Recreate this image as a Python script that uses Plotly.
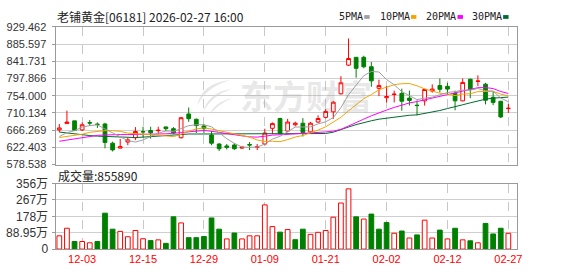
import plotly.graph_objects as go

# ---------------- data ----------------
dates = ["2025-11-28", "2025-12-01", "2025-12-02", "2025-12-03", "2025-12-04", "2025-12-05",
         "2025-12-08", "2025-12-09", "2025-12-10", "2025-12-11", "2025-12-12", "2025-12-15",
         "2025-12-16", "2025-12-17", "2025-12-18", "2025-12-19", "2025-12-22", "2025-12-23",
         "2025-12-24", "2025-12-29", "2025-12-30", "2025-12-31", "2026-01-02", "2026-01-05",
         "2026-01-06", "2026-01-07", "2026-01-08", "2026-01-09", "2026-01-12", "2026-01-13",
         "2026-01-14", "2026-01-15", "2026-01-16", "2026-01-19", "2026-01-20", "2026-01-21",
         "2026-01-22", "2026-01-23", "2026-01-26", "2026-01-27", "2026-01-28", "2026-01-29",
         "2026-01-30", "2026-02-02", "2026-02-03", "2026-02-04", "2026-02-05", "2026-02-06",
         "2026-02-09", "2026-02-10", "2026-02-11", "2026-02-12", "2026-02-13", "2026-02-16",
         "2026-02-20", "2026-02-23", "2026-02-24", "2026-02-25", "2026-02-26", "2026-02-27"]

opens = [667, 683, 690, 667, 685.5, 681.5, 682, 633, 620.5, 636,
         647, 662.5, 665.5, 665, 674.5, 670, 647, 707.5, 694, 677,
         654, 631, 626, 628.5, 620.5, 629.5, 623, 631, 671, 696,
         664, 680, 684, 662, 687, 699, 713, 759, 832, 852,
         852, 828, 773, 749, 757, 760, 748, 730, 741, 766,
         780, 778, 760, 741, 796, 790.5, 783.5, 750, 740, 721.5]
highs = [682, 716, 690, 686, 692, 686, 685, 637, 644, 647,
         674, 675, 675, 675, 675, 674, 700, 724, 696, 682,
         664, 633, 631, 633, 624, 636, 631, 670, 686, 698,
         695, 688, 697, 687, 704, 721, 741, 804, 900, 852,
         856, 840, 795, 779, 767, 772, 767, 742, 772, 783,
         798, 787, 767, 798, 798, 806, 787, 764, 741, 733]
lows = [661, 683, 664, 664, 677, 672, 620, 612, 620, 628,
        641, 648, 645, 656, 664, 656, 645, 687.5, 659, 659,
        628, 613, 617, 616, 619, 615.5, 615.5, 627, 656, 655,
        661, 676, 650, 659, 685, 696, 695, 757, 830, 800,
        824, 777, 753, 737, 737, 716, 729, 704, 729, 762,
        762.5, 758, 717, 740, 748, 779, 732, 730, 697, 710]
closes = [672, 687, 666, 680, 684.5, 681, 635, 616, 624.5, 641.5,
          663, 662, 659.5, 666, 670, 659, 698, 695.5, 678, 670,
          633, 619, 622.5, 619, 623, 628.5, 624, 659, 683, 658,
          687, 684, 660, 684, 696, 714, 737.5, 787, 849, 824,
          828, 792, 780, 752, 758, 740, 742, 729, 770, 771,
          770.5, 771, 741, 788, 770.5, 791.5, 742.5, 737, 700, 722]

volumes = [720000, 1130000, 410000, 410000, 340000, 410000, 1950000, 1080000, 960000, 670000,
           1010000, 560000, 460000, 500000, 310000, 1750000, 1420000, 620000, 620000, 680000,
           1690000, 1080000, 550000, 870000, 550000, 720000, 720000, 2400000, 1220000, 920000,
           1060000, 510000, 1080000, 800000, 910000, 1010000, 1730000, 2500000, 3270000, 1750000,
           1630000, 1900000, 1080000, 1440000, 860000, 980000, 600000, 770000, 1570000, 600000,
           1030000, 550000, 1130000, 500000, 450000, 340000, 1390000, 820000, 1130000, 855890]
# 1 = red (up) volume bar, 0 = green (down) volume bar
vol_up = [1, 1, 0, 1, 1, 0, 0, 0, 1, 1,
          1, 1, 0, 1, 0, 0, 1, 0, 0, 0,
          0, 0, 1, 0, 1, 1, 1, 1, 1, 0,
          1, 0, 0, 1, 1, 1, 1, 1, 1, 0,
          1, 0, 0, 0, 1, 0, 1, 0, 1, 1,
          0, 1, 0, 1, 0, 1, 0, 0, 0, 1]

# moving-average values for the first bars (their windows reach before the visible data)
ma5_head = [650, 660, 665, 674]
ma10_head = [647.5, 650, 652.4, 656, 660.8, 663.2, 665, 665, 663.2]
ma20_head = [638, 641, 644, 647, 651, 653, 654, 655, 655, 655, 655, 655.5, 656, 656.5,
             657, 658, 660, 662, 663]
ma30_head = [661.5, 659, 656.5, 654.5, 652.5, 651, 650, 649, 648, 647.5, 647.5, 648.5,
             650, 651.5, 652.5, 654, 655.5, 656.5, 656.5, 656.5, 656.5, 656, 656, 656,
             656, 656, 656, 656, 656]

tick_dates = ["12-03", "12-15", "12-29", "01-09", "01-21", "02-02", "02-12", "02-27"]
price_ticks = [578.538, 622.403, 666.269, 710.134, 754.000, 797.866, 841.731, 885.597, 929.462]
price_tick_text = ["578.538", "622.403", "666.269", "710.134", "754.000",
                   "797.866", "841.731", "885.597", "929.462"]
vol_ticks = [0, 889500, 1779000, 2668500, 3558000]
vol_tick_text = ["0", "88.95万", "178万", "267万", "356万"]

stock_title = "老铺黄金[06181] 2026-02-27 16:00"
ma_names = ["5PMA", "10PMA", "20PMA", "30PMA"]
ma_colors = ["#a0a0a0", "#f5a300", "#ff00ff", "#006b2e"]

# ---------------- derived ----------------
def moving_average(vals, n, head):
    out = list(head)
    for i in range(n - 1, len(vals)):
        out.append(sum(vals[i - n + 1:i + 1]) / n)
    return out

mas = [moving_average(closes, 5, ma5_head), moving_average(closes, 10, ma10_head),
       moving_average(closes, 20, ma20_head), moving_average(closes, 30, ma30_head)]

idx = list(range(len(dates)))
short = [d[5:] for d in dates]
tick_idx = [short.index(t) for t in tick_dates]

RED = "#ff0000"
GREEN = "#008000"
W, H = 578, 276
def px(x): return x / W
def py(y): return 1 - y / H

fig = go.Figure()

fig.add_trace(go.Candlestick(
    x=idx, open=opens, high=highs, low=lows, close=closes,
    increasing=dict(line=dict(color=RED, width=1), fillcolor="#ffffff"),
    decreasing=dict(line=dict(color=GREEN, width=1), fillcolor=GREEN),
    whiskerwidth=0, xaxis="x", yaxis="y", showlegend=False, hoverinfo="skip"))

for name, col, vals in zip(ma_names[::-1], ma_colors[::-1], mas[::-1]):
    fig.add_trace(go.Scatter(x=idx, y=vals, mode="lines", name=name,
                             line=dict(color=col, width=1), xaxis="x", yaxis="y",
                             showlegend=False, hoverinfo="skip"))

fig.add_trace(go.Bar(
    x=idx, y=volumes, width=0.62, xaxis="x2", yaxis="y2", showlegend=False,
    marker=dict(color=["#ffffff" if u else GREEN for u in vol_up],
                line=dict(color=[RED if u else GREEN for u in vol_up], width=1)),
    hoverinfo="skip"))

xr = [-0.5, len(dates) + 0.2]
xdom = [px(56), px(522)]
common_x = dict(range=xr, domain=xdom, tickmode="array", tickvals=tick_idx,
                showgrid=True, gridcolor="#c8c8c8", griddash="dash", gridwidth=1,
                showline=True, linecolor="#9a9a9a", linewidth=1, mirror=True,
                zeroline=False, fixedrange=True, ticks="")
common_y = dict(showgrid=True, gridcolor="#cfcfcf", gridwidth=1, showline=True,
                linecolor="#9a9a9a", linewidth=1, mirror=True, zeroline=False,
                ticks="outside", ticklen=3, tickcolor="#9a9a9a", fixedrange=True,
                tickmode="array")

fig.update_layout(
    width=W, height=H, margin=dict(l=0, r=0, t=0, b=0),
    paper_bgcolor="#ffffff", plot_bgcolor="#ffffff",
    showlegend=False, boxgap=0.3,
    xaxis=dict(**common_x, anchor="y", showticklabels=False,
               rangeslider=dict(visible=False)),
    yaxis=dict(**common_y, domain=[py(166), py(21)], range=[price_ticks[0], price_ticks[-1]],
               tickvals=price_ticks, ticktext=price_tick_text, anchor="x",
               tickfont=dict(family="Liberation Sans, Noto Sans CJK SC", size=11, color="#333333"),
               ticklabelstandoff=3),
    xaxis2=dict(**common_x, anchor="y2", ticktext=tick_dates, showticklabels=True,
                tickfont=dict(family="Liberation Sans", size=11, color=RED)),
    yaxis2=dict(**common_y, domain=[py(255), py(186)], range=[vol_ticks[0], vol_ticks[-1]],
                tickvals=vol_ticks, ticktext=vol_tick_text, anchor="x2",
                tickfont=dict(family="Liberation Sans, Noto Sans CJK SC", size=12, color="#333333"),
                ticklabelstandoff=1),
)

annotations = []
# watermark
annotations.append(dict(x=px(309), y=py(93), xref="paper", yref="paper", showarrow=False,
                        text="<b>东方财富</b>", xanchor="center", yanchor="middle",
                        font=dict(family="Noto Sans CJK SC", size=33,
                                  color="rgba(150,150,150,0.24)")))
annotations.append(dict(x=px(55), y=py(10), xref="paper", yref="paper", showarrow=False,
                        text=stock_title, xanchor="left", yanchor="middle",
                        font=dict(family="Noto Sans CJK SC", size=12, color="#222222")))
annotations.append(dict(x=px(56), y=py(178), xref="paper", yref="paper", showarrow=False,
                        text="成交量:" + str(volumes[-1]), xanchor="left", yanchor="middle",
                        font=dict(family="Noto Sans CJK SC", size=12, color="#222222")))

shapes = []
leg_x = [340, 381, 428, 474]
for name, col, lx in zip(ma_names, ma_colors, leg_x):
    annotations.append(dict(x=px(lx), y=py(10), xref="paper", yref="paper", showarrow=False,
                            text=name, xanchor="left", yanchor="middle",
                            font=dict(family="DejaVu Sans Mono", size=10, color="#222222")))
    sx = lx + 6.1 * len(name) + 3
    shapes.append(dict(type="rect", xref="paper", yref="paper",
                       x0=px(sx), x1=px(sx + 5.5), y0=py(12.5), y1=py(8.5),
                       fillcolor=col, line=dict(width=0)))

# watermark logo (decorative swoosh)
def blade(p):
    pts = [(px(a), py(b)) for a, b in p]
    (x0, y0), (cx1, cy1), (x1, y1), (cx2, cy2) = pts
    return f"M {x0} {y0} Q {cx1} {cy1} {x1} {y1} Q {cx2} {cy2} {x0} {y0} Z"
for p in [[(233, 77), (203, 80), (199, 104), (208, 84)],
          [(234, 86), (210, 90), (205, 110), (214, 93)],
          [(234, 96), (216, 100), (212, 113), (220, 102)]]:
    shapes.append(dict(type="path", xref="paper", yref="paper", path=blade(p),
                       fillcolor="#e6e6e6", line=dict(width=0), layer="below"))

fig.update_layout(annotations=annotations, shapes=shapes)

fig.write_html("out.html")
